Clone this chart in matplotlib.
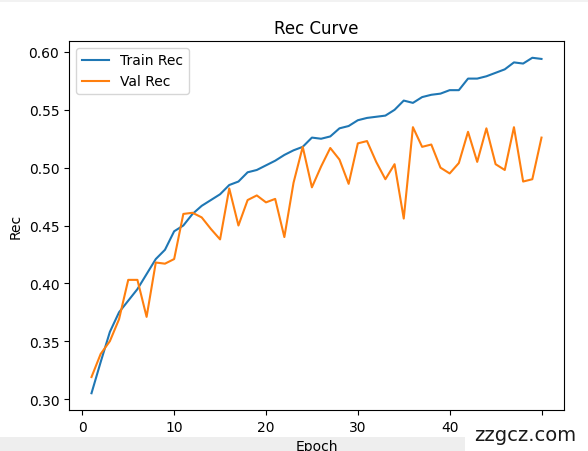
import matplotlib
matplotlib.use("Agg")
import matplotlib.pyplot as plt
from matplotlib.patches import Rectangle

epochs = list(range(1, 51))
train_rec = [0.305, 0.332, 0.358, 0.375, 0.385, 0.395, 0.408, 0.421, 0.429, 0.445,
             0.450, 0.460, 0.467, 0.472, 0.477, 0.485, 0.488, 0.496, 0.498, 0.502,
             0.506, 0.511, 0.515, 0.518, 0.526, 0.525, 0.527, 0.534, 0.536, 0.541,
             0.543, 0.544, 0.545, 0.550, 0.558, 0.556, 0.561, 0.563, 0.564, 0.567,
             0.567, 0.577, 0.577, 0.579, 0.582, 0.585, 0.591, 0.590, 0.595, 0.594]
val_rec = [0.319, 0.339, 0.350, 0.369, 0.403, 0.403, 0.371, 0.418, 0.417, 0.421,
           0.460, 0.461, 0.457, 0.447, 0.438, 0.482, 0.450, 0.472, 0.476, 0.470,
           0.473, 0.440, 0.487, 0.518, 0.483, 0.501, 0.517, 0.507, 0.486, 0.521,
           0.523, 0.505, 0.490, 0.503, 0.456, 0.535, 0.518, 0.520, 0.500, 0.495,
           0.504, 0.531, 0.505, 0.534, 0.503, 0.498, 0.535, 0.488, 0.490, 0.526]

W, H = 588, 452
fig = plt.figure(figsize=(W / 100, H / 100), dpi=100)

# light grey band at the bottom and top of the screenshot
fig.patches.append(Rectangle((0, 0), 1, 14 / H, transform=fig.transFigure,
                             facecolor="#eeeeee", edgecolor="none", zorder=-10))
fig.patches.append(Rectangle((0, 1 - 3 / H), 1, 3 / H, transform=fig.transFigure,
                             facecolor="#f2f2f2", edgecolor="none", zorder=-10))

ax = fig.add_axes([69 / W, 1 - 411 / H, 495 / W, 369 / H])
ax.plot(epochs, train_rec, label="Train Rec")
ax.plot(epochs, val_rec, label="Val Rec")
ax.set_title("Rec Curve")
ax.set_xlabel("Epoch")
ax.set_ylabel("Rec")
ax.legend(loc="upper left")

# watermark box
fig.patches.append(Rectangle((465 / W, 0), 1 - 465 / W, 34 / H, transform=fig.transFigure,
                             facecolor="white", edgecolor="none", zorder=5))
fig.text(525 / W, 1 - 436 / H, "zzgcz.com", ha="center", va="center", fontsize=14,
         color="#1a1a1a", zorder=6)

fig.savefig("out.png", dpi=100)
